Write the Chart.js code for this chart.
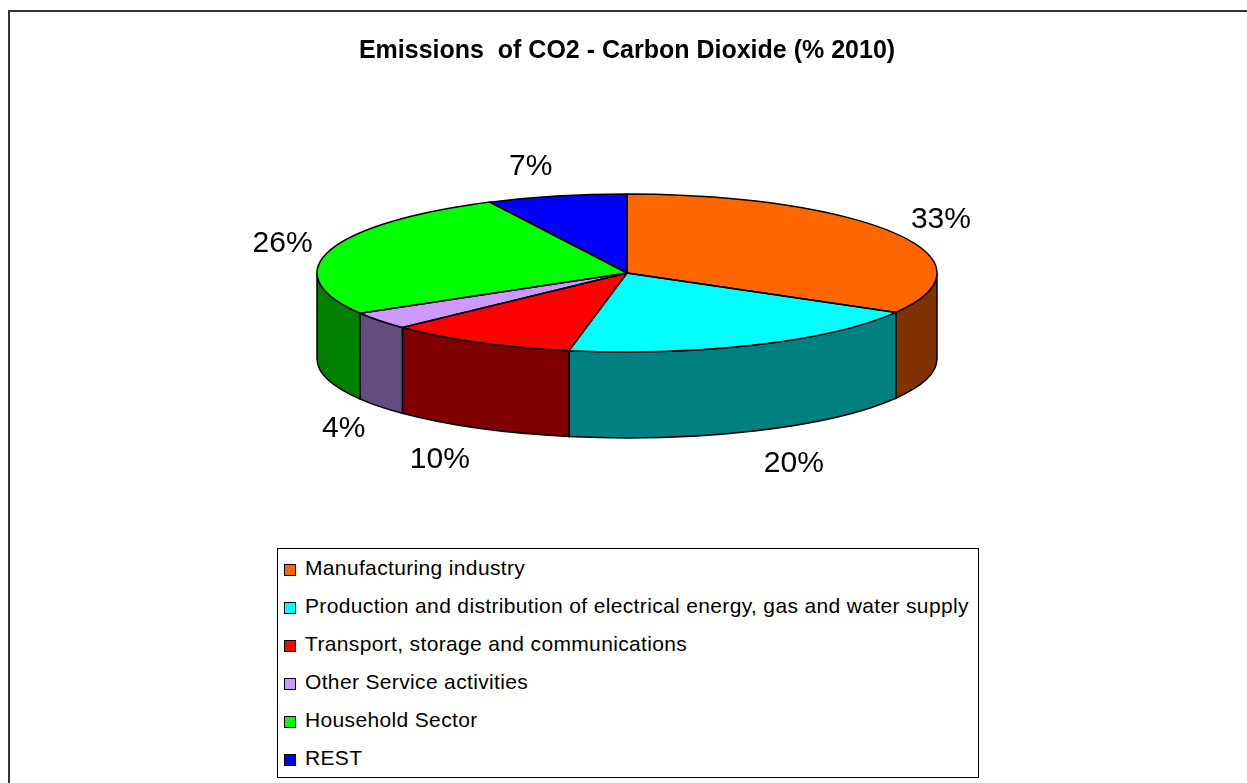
<!DOCTYPE html>
<html>
<head>
<meta charset="utf-8">
<title>Emissions of CO2</title>
<script src="https://cdn.jsdelivr.net/npm/chart.js@4"></script>
<style>
    body { margin: 0; background: #fff; font-family: "Liberation Sans", Arial, sans-serif; }
    #wrap { position: relative; width: 1247px; height: 783px; overflow: hidden; }
    #frame { position: absolute; left: 8px; top: 10px; width: 1400px; height: 900px; border-left: 2px solid #333; border-top: 2px solid #333; }
    #co2Chart { position: absolute; left: 0; top: 0; }
    #legend { position: absolute; left: 277px; top: 548px; width: 700px; height: 228px; border: 1px solid #000; background: #fff; }
    #legend .item { height: 38px; line-height: 38px; padding-left: 6px; font-size: 21px; letter-spacing: 0.35px; color: #000; white-space: nowrap; }
    #legend .box { display: inline-block; width: 10px; height: 10px; border: 1px solid #000; margin-right: 9px; vertical-align: -1px; }
</style>
</head>
<body>
<div id="wrap">
    <div id="frame"></div>
    <canvas id="co2Chart" width="1247" height="783"></canvas>
    <div id="legend"></div>
</div>
<script>
const sectors = [
    'Manufacturing industry',
    'Production and distribution of electrical energy, gas and water supply',
    'Transport, storage and communications',
    'Other Service activities',
    'Household Sector',
    'REST'
];
const shares = [33.3, 19.7, 9.9, 3.6, 26.2, 7.3];
const sectorColors = ['#FF6600', '#00FFFF', '#FF0000', '#CC99FF', '#00FF00', '#0000FF'];

const TILT = 0.255;   // vertical squash of the pie top
const DEPTH = 0.277;  // wall height relative to radius
const FONT = '"Liberation Sans", Arial, sans-serif';

const darken = (hex) => {
    const n = parseInt(hex.slice(1), 16);
    const r = (n >> 16) & 255, g = (n >> 8) & 255, b = n & 255;
    return `rgb(${Math.round(r / 2)}, ${Math.round(g / 2)}, ${Math.round(b / 2)})`;
};

const pie3d = {
    id: 'pie3d',
    beforeDatasetsDraw(chart) {
        const arcs = chart.getDatasetMeta(0).data;
        if (!arcs.length) return;
        const { x: cx, y: cy, outerRadius: rx } = arcs[0];
        const ry = rx * TILT;
        const depth = rx * DEPTH;
        const ctx = chart.ctx;

        // front walls (only the part facing the viewer)
        ctx.save();
        ctx.lineWidth = 1.5;
        ctx.strokeStyle = '#000';
        arcs.forEach((arc, i) => {
            const a = Math.max(arc.startAngle, 0);
            const b = Math.min(arc.endAngle, Math.PI);
            if (a >= b) return;
            ctx.beginPath();
            ctx.ellipse(cx, cy, rx, ry, 0, a, b);
            ctx.ellipse(cx, cy + depth, rx, ry, 0, b, a, true);
            ctx.closePath();
            ctx.fillStyle = darken(sectorColors[i]);
            ctx.fill();
            ctx.stroke();
        });
        ctx.restore();

        // squash the library's arcs into an ellipse
        ctx.save();
        ctx.translate(cx, cy);
        ctx.scale(1, TILT);
        ctx.translate(-cx, -cy);
    },
    afterDatasetsDraw(chart) {
        const arcs = chart.getDatasetMeta(0).data;
        if (!arcs.length) return;
        const ctx = chart.ctx;
        ctx.restore();

        const { x: cx, y: cy, outerRadius: rx } = arcs[0];
        const ry = rx * TILT;
        const depth = rx * DEPTH;

        ctx.save();
        ctx.lineWidth = 1.5;
        ctx.strokeStyle = '#000';
        arcs.forEach((arc) => {
            ctx.beginPath();
            ctx.moveTo(cx, cy);
            ctx.ellipse(cx, cy, rx, ry, 0, arc.startAngle, arc.endAngle);
            ctx.closePath();
            ctx.stroke();
        });

        // percentage labels
        const total = shares.reduce((s, v) => s + v, 0);
        const capH = 22;
        ctx.font = `30px ${FONT}`;
        ctx.fillStyle = '#000';
        ctx.textBaseline = 'alphabetic';
        arcs.forEach((arc, i) => {
            const mid = (arc.startAngle + arc.endAngle) / 2;
            const cos = Math.cos(mid), sin = Math.sin(mid);
            const ax = cx + (rx + 18) * cos;
            const ay = cy + (ry + 22) * sin + (sin > 0 ? depth : 0);
            const top = ay - capH * (1 - sin) / 2;
            ctx.textAlign = cos > 0 ? 'left' : 'right';
            ctx.fillText(Math.round(shares[i] / total * 100) + '%', ax, top + capH);
        });
        ctx.restore();
    }
};

const chart = new Chart(document.getElementById('co2Chart'), {
    type: 'pie',
    data: {
        labels: sectors,
        datasets: [{
            data: shares,
            backgroundColor: sectorColors,
            borderWidth: 0,
            radius: 310,
            clip: false
        }]
    },
    options: {
        responsive: false,
        animation: false,
        events: [],
        layout: { padding: { left: 7, right: 0, top: 0, bottom: 305 } },
        plugins: {
            legend: { display: false },
            tooltip: { enabled: false },
            title: {
                display: true,
                text: 'Emissions  of CO2 - Carbon Dioxide (% 2010)',
                color: '#000',
                font: { family: FONT, size: 25, weight: 'bold' },
                padding: { top: 36, bottom: 2 }
            }
        }
    },
    plugins: [pie3d]
});

// legend box built from the chart data
const legendEl = document.getElementById('legend');
chart.data.labels.forEach((label, i) => {
    const item = document.createElement('div');
    item.className = 'item';
    const box = document.createElement('span');
    box.className = 'box';
    box.style.background = chart.data.datasets[0].backgroundColor[i];
    item.appendChild(box);
    item.appendChild(document.createTextNode(label));
    legendEl.appendChild(item);
});
</script>
</body>
</html>
